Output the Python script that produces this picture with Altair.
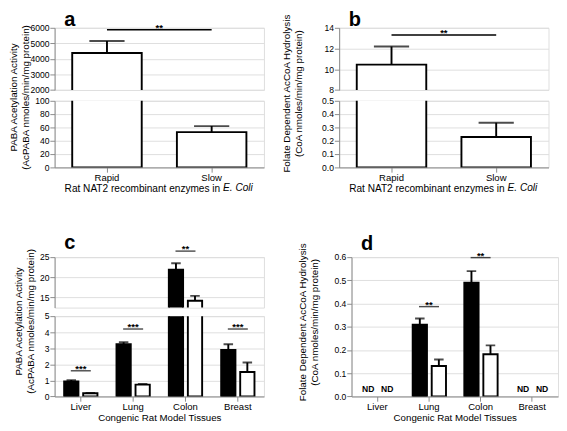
import altair as alt
import pandas as pd

FONT = "Liberation Sans"

# ---------------- data ----------------
enzymes = ["Rapid", "Slow"]
paba_recomb = [4380, 53]
paba_recomb_upper = [5150, 62]
folate_recomb = [10.45, 0.228]
folate_recomb_upper = [12.2, 0.335]
recomb_sig_text = ["**"]
paba_recomb_sig_y = [5880]
folate_recomb_sig_y = [13.3]

tissues = ["Liver", "Lung", "Colon", "Breast"]
strains = ["Rapid", "Slow"]
paba_rapid = [0.93, 3.25, 21.9, 2.9]
paba_rapid_upper = [1.02, 3.38, 23.5, 3.25]
paba_slow = [0.2, 0.74, 14.2, 1.52]
paba_slow_upper = [0.22, 0.78, 15.4, 2.12]
paba_sig_text = ["***", "***", "**", "***"]
paba_sig_y = [1.6, 4.2, 26.5, 4.2]

folate_rapid = [None, 0.309, 0.49, None]
folate_rapid_upper = [None, 0.336, 0.54, None]
folate_slow = [None, 0.131, 0.182, None]
folate_slow_upper = [None, 0.159, 0.22, None]
folate_sig_text = [None, "**", "**", None]
folate_sig_y = [None, 0.387, 0.598, None]
nd_tissues = ["Liver", "Breast"]
nd_text = "ND"

panel_letters = ["a", "b", "c", "d"]
recomb_xtitle = "Rat NAT2 recombinant enzymes in"
recomb_xtitle_italic = ["E. Coli"]
tissue_xtitle = "Congenic Rat Model Tissues"
paba_ytitle = ["PABA Acetylation Activity", "(AcPABA nmoles/min/mg protein)"]
folate_ytitle = ["Folate Dependent AcCoA Hydrolysis", "(CoA nmoles/min/mg protein)"]

# ---------------- tables ----------------
df_a = pd.DataFrame({"enzyme": enzymes, "mean": paba_recomb, "upper": paba_recomb_upper})
df_b = pd.DataFrame({"enzyme": enzymes, "mean": folate_recomb, "upper": folate_recomb_upper})
sig_a = pd.DataFrame({"start": [enzymes[0]], "end": [enzymes[1]], "y": paba_recomb_sig_y, "label": recomb_sig_text})
sig_b = pd.DataFrame({"start": [enzymes[0]], "end": [enzymes[1]], "y": folate_recomb_sig_y, "label": recomb_sig_text})
italic_df = pd.DataFrame({"t": recomb_xtitle_italic})


def tissue_table(rapid, rapid_up, slow, slow_up):
    rows = []
    for i, t in enumerate(tissues):
        rows.append({"tissue": t, "strain": strains[0], "mean": rapid[i], "upper": rapid_up[i]})
        rows.append({"tissue": t, "strain": strains[1], "mean": slow[i], "upper": slow_up[i]})
    return pd.DataFrame(rows)


df_c = tissue_table(paba_rapid, paba_rapid_upper, paba_slow, paba_slow_upper)
df_d = tissue_table(folate_rapid, folate_rapid_upper, folate_slow, folate_slow_upper).dropna()
sig_c = pd.DataFrame({"tissue": tissues, "y": paba_sig_y, "label": paba_sig_text})
sig_d = pd.DataFrame({"tissue": tissues, "y": folate_sig_y, "label": folate_sig_text}).dropna()
nd_df = pd.DataFrame([{"tissue": t, "strain": s, "v": 0, "label": nd_text} for t in nd_tissues for s in strains])

YLBL = dict(labelFont=FONT, labelFontSize=9, labelColor="black", labelPadding=1,
            titleFont=FONT, titleFontSize=10.3, titleColor="black", titleFontWeight="normal")
XLBL = dict(labelFont=FONT, labelFontSize=10, labelColor="black", labelPadding=1,
            titleFont=FONT, titleColor="black", titleFontWeight="normal")


# ---------------- helpers ----------------
def letter_layer(letter, up):
    return alt.Chart(pd.DataFrame({"t": [letter]})).mark_text(
        align="left", baseline="alphabetic", fontSize=21, fontWeight="bold", font=FONT, color="black"
    ).encode(x=alt.value(10), y=alt.value(-up), text="t:N")


def yaxis_for(ticks, fmt, ytitle, title_x, title_y):
    if ytitle is not None:
        return alt.Axis(values=ticks, format=fmt, title=ytitle, titleX=title_x, titleY=title_y,
                        titleAlign="center", titleBaseline="top", titleLineHeight=12.5, **YLBL)
    return alt.Axis(values=ticks, format=fmt, title=None, **YLBL)


def recomb_segment(df, sig, domain, ticks, fmt, height, bottom, ytitle=None, title_x=0, title_y=0, letter=None):
    if bottom:
        xaxis = alt.Axis(labelAngle=0, title=recomb_xtitle, titleX=10, titleY=25, titleAlign="left",
                         titleBaseline="alphabetic", titleFontSize=10.6, **XLBL)
    else:
        xaxis = None
    xs = alt.Scale(domain=enzymes, paddingInner=0.336, paddingOuter=0.168)
    yaxis = yaxis_for(ticks, fmt, ytitle, title_x, title_y)
    ys = alt.Scale(domain=domain, zero=False, nice=False)
    base = alt.Chart(df)
    xe = alt.X("enzyme:N", sort=enzymes, scale=xs, axis=xaxis)
    bars = base.mark_bar(fill="white", stroke="black", strokeWidth=2, clip=True).encode(
        x=xe, y=alt.Y("mean:Q", scale=ys, axis=yaxis), y2=alt.datum(0))
    err = base.mark_rule(color="black", strokeWidth=2, clip=True).encode(
        x=xe, y=alt.Y("mean:Q", scale=ys, axis=yaxis), y2="upper:Q")
    cap = base.mark_tick(color="black", size=37, thickness=2, clip=True).encode(
        x=xe, y=alt.Y("upper:Q", scale=ys, axis=yaxis))
    layers = [bars, err, cap]
    if not bottom:
        sbase = alt.Chart(sig)
        line = sbase.mark_rule(color="black", strokeWidth=1.5).encode(
            x=alt.X("start:N", sort=enzymes, scale=xs, axis=xaxis), x2="end:N",
            y=alt.Y("y:Q", scale=ys, axis=yaxis))
        txt = sbase.mark_text(dx=55, dy=1, fontSize=10, fontWeight="bold", font=FONT,
                              baseline="alphabetic", color="black").encode(
            x=alt.X("start:N", sort=enzymes, scale=xs, axis=xaxis),
            y=alt.Y("y:Q", scale=ys, axis=yaxis), text="label:N")
        layers += [line, txt]
    else:
        it = alt.Chart(italic_df).mark_text(align="left", baseline="alphabetic", fontStyle="italic",
                                            fontSize=10.6, font=FONT, color="black").encode(
            x=alt.value(177), y=alt.value(height + 25), text="t:N")
        layers.append(it)
    if letter is not None:
        layers.append(letter_layer(*letter))
    return alt.layer(*layers).properties(width=220, height=height)


def tissue_segment(df, sig, domain, ticks, fmt, height, width, bottom, sig_filter, ytitle=None,
                   title_x=0, title_y=0, letter=None, nd=False):
    if bottom:
        xaxis = alt.Axis(labelAngle=0, title=tissue_xtitle, titleY=25, titleBaseline="alphabetic",
                         titleFontSize=10.2, **XLBL)
    else:
        xaxis = None
    xs = alt.Scale(domain=tissues, paddingInner=0, paddingOuter=0)
    os_ = alt.Scale(domain=strains, paddingInner=0.25, paddingOuter=0.5)
    yaxis = yaxis_for(ticks, fmt, ytitle, title_x, title_y)
    ys = alt.Scale(domain=domain, zero=False, nice=False)
    xe = alt.X("tissue:N", sort=tissues, scale=xs, axis=xaxis)
    xo = alt.XOffset("strain:N", sort=strains, scale=os_)
    base = alt.Chart(df)
    bars = base.mark_bar(stroke="black", strokeWidth=2, clip=True).encode(
        x=xe, xOffset=xo, y=alt.Y("mean:Q", scale=ys, axis=yaxis), y2=alt.datum(0),
        fill=alt.Fill("strain:N", scale=alt.Scale(domain=strains, range=["black", "white"]), legend=None))
    err = base.mark_rule(color="black", strokeWidth=2, clip=True).encode(
        x=xe, xOffset=xo, y=alt.Y("mean:Q", scale=ys, axis=yaxis), y2="upper:Q")
    cap = base.mark_tick(color="black", size=10, thickness=2, clip=True).encode(
        x=xe, xOffset=xo, y=alt.Y("upper:Q", scale=ys, axis=yaxis))
    sbase = alt.Chart(sig).transform_filter(sig_filter)
    line = sbase.mark_tick(color="black", size=21, thickness=1.5).encode(
        x=xe, y=alt.Y("y:Q", scale=ys, axis=yaxis))
    txt = sbase.mark_text(dy=1, fontSize=10, fontWeight="bold", font=FONT, baseline="alphabetic",
                          color="black").encode(x=xe, y=alt.Y("y:Q", scale=ys, axis=yaxis), text="label:N")
    layers = [bars, err, cap, line, txt]
    if nd:
        ndl = alt.Chart(nd_df).mark_text(dy=-5, fontSize=9, fontWeight="bold", font=FONT,
                                         baseline="alphabetic", color="black").encode(
            x=xe, xOffset=xo, y=alt.Y("v:Q", scale=ys, axis=yaxis), text="label:N")
        layers.append(ndl)
    if letter is not None:
        layers.append(letter_layer(*letter))
    return alt.layer(*layers).properties(width=width, height=height)


# ---------------- panels ----------------
a_top = recomb_segment(df_a, sig_a, [2000, 6000], [2000, 3000, 4000, 5000, 6000], "d", 65.3, False,
                       letter=(panel_letters[0], 2.4))
a_bot = recomb_segment(df_a, sig_a, [0, 100], [0, 20, 40, 60, 80, 100], "d", 70, True,
                       ytitle=paba_ytitle, title_x=-48, title_y=-4)
b_top = recomb_segment(df_b, sig_b, [8, 14], [8, 10, 12, 14], "d", 65.3, False,
                       letter=(panel_letters[1], 2.4))
b_bot = recomb_segment(df_b, sig_b, [0, 0.5], [0, 0.1, 0.2, 0.3, 0.4, 0.5], ".1f", 70, True,
                       ytitle=folate_ytitle, title_x=-60, title_y=-8)

c_top = tissue_segment(df_c, sig_c, [12.5, 25], [15, 20, 25], "d", 53, 220, False, "datum.y > 12.5",
                       letter=(panel_letters[2], 9))
c_bot = tissue_segment(df_c, sig_c, [0, 5], [0, 1, 2, 3, 4, 5], "d", 84.4, 220, True, "datum.y <= 5",
                       ytitle=paba_ytitle, title_x=-43, title_y=5)
d_pan = tissue_segment(df_d, sig_d, [0, 0.6], [0, 0.1, 0.2, 0.3, 0.4, 0.5, 0.6], ".1f", 146.4, 217, True,
                       "isValid(datum.y)", ytitle=folate_ytitle, title_x=-56.5, title_y=68,
                       letter=(panel_letters[3], 7.5), nd=True)

panel_a = alt.vconcat(a_top, a_bot, spacing=10.7, bounds="flush")
panel_b = alt.vconcat(b_top, b_bot, spacing=10.7, bounds="flush")
panel_c = alt.vconcat(c_top, c_bot, spacing=9, bounds="flush")

row1 = alt.hconcat(panel_a, panel_b, spacing=17)
row2 = alt.hconcat(panel_c, d_pan, spacing=33)

chart = alt.vconcat(row1, row2, spacing=39).properties(
    padding={"left": 0, "top": -10, "right": 0, "bottom": 0}
).configure_view(stroke=None).configure_axis(
    domainColor="black", domainWidth=1.8, tickColor="black", tickWidth=1.5, tickSize=4, grid=False
).configure(background="white")

chart.save("out.html", embed_options={"renderer": "svg", "actions": False})
